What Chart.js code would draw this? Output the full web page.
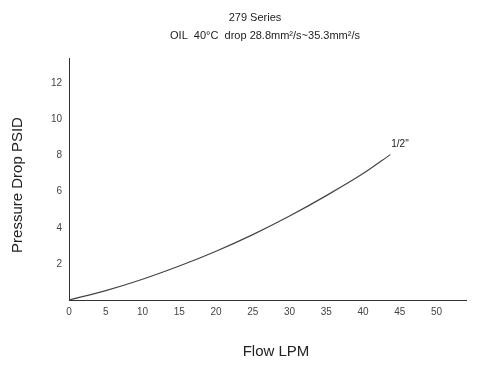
<!DOCTYPE html>
<html>
<head>
<meta charset="utf-8">
<script src="https://cdn.jsdelivr.net/npm/chart.js@4.4.0/dist/chart.umd.min.js"></script>
<style>
    html, body { margin: 0; padding: 0; background: #fff; }
    #wrap { width: 477px; height: 367px; }
</style>
</head>
<body>
<div id="wrap"><canvas id="grafico" width="477" height="367"></canvas></div>
<script>
// dados
const fluxo = [0, 5, 10, 15, 20, 25, 30, 35, 40, 43.7];
const pressao = [0, 0.52, 1.15, 1.88, 2.7, 3.62, 4.65, 5.78, 7.0, 8.05];
const rotuloSerie = '1/2"';
const titulo = '279 Series';
const subtitulo = 'OIL  40°C  drop 28.8mm²/s~35.3mm²/s';
const tituloX = 'Flow LPM';
const tituloY = 'Pressure Drop PSID';

const fonte = '"Liberation Sans", Arial, sans-serif';

// textos fixos (titulos e rotulo da curva)
const textos = {
    id: 'textos',
    afterDraw(chart) {
        const ctx = chart.ctx;
        ctx.save();
        ctx.fillStyle = '#222';
        ctx.textAlign = 'center';
        ctx.textBaseline = 'middle';
        ctx.font = '11px ' + fonte;
        ctx.fillText(titulo, 255, 18);
        ctx.fillText(subtitulo, 265, 36);

        ctx.font = '15px ' + fonte;
        ctx.fillText(tituloX, 276, 352);
        ctx.save();
        ctx.translate(18, 185);
        ctx.rotate(-Math.PI / 2);
        ctx.fillText(tituloY, 0, 0);
        ctx.restore();

        // rotulo no fim da curva
        const meta = chart.getDatasetMeta(0);
        const ultimo = meta.data[meta.data.length - 1];
        ctx.font = '10px ' + fonte;
        ctx.textAlign = 'left';
        ctx.fillText(rotuloSerie, ultimo.x + 1, ultimo.y - 10);
        ctx.restore();
    }
};

const pontos = fluxo.map((x, i) => ({ x: x, y: pressao[i] }));

const config = {
    type: 'line',
    data: {
        datasets: [{
            data: pontos,
            borderColor: '#444',
            borderWidth: 1.2,
            pointRadius: 0,
            fill: false,
            cubicInterpolationMode: 'monotone'
        }]
    },
    options: {
        responsive: false,
        animation: false,
        layout: { padding: { left: 0, top: 58, right: 11, bottom: 0 } },
        plugins: {
            legend: { display: false },
            tooltip: { enabled: false }
        },
        scales: {
            x: {
                type: 'linear',
                min: 0,
                max: 54,
                grid: { display: false, drawTicks: true, tickLength: 4, tickColor: '#555' },
                border: { color: '#333', width: 1 },
                ticks: {
                    stepSize: 5,
                    color: '#444',
                    font: { family: fonte, size: 10 },
                    padding: 2,
                    callback: v => (v % 5 === 0 && v <= 50) ? v : ''
                },
                afterFit(scale) { scale.height = 67; }
            },
            y: {
                type: 'linear',
                min: 0,
                max: 13.4,
                grid: { display: false, drawTicks: true, tickLength: 4, tickColor: '#555' },
                border: { color: '#333', width: 1 },
                ticks: {
                    stepSize: 2,
                    color: '#444',
                    font: { family: fonte, size: 10 },
                    padding: 3,
                    callback: v => (v > 0 && v % 2 === 0) ? v : ''
                },
                afterFit(scale) { scale.width = 69; }
            }
        }
    },
    plugins: [textos]
};

new Chart(document.getElementById('grafico'), config);
</script>
</body>
</html>
